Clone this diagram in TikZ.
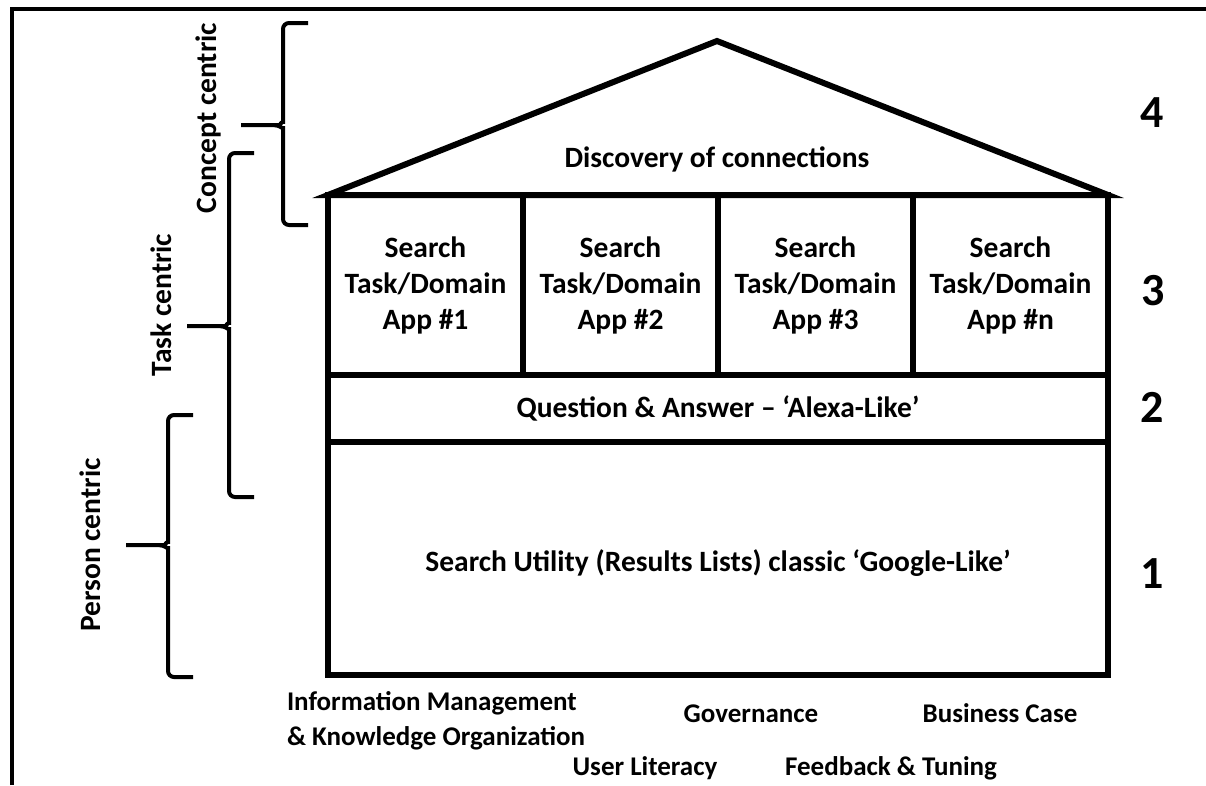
\documentclass[tikz,border=0pt]{standalone}
\usepackage{fontspec}
\setmainfont{Carlito}
\usetikzlibrary{positioning}

% curly bracket: spine x, top y, bottom y, middle y
\newcommand\centricbrace[4]{%
  \draw[brace line] (#1+25,#2) -- (#1,#2) -- (#1,#4-9)
    to[out=-90,in=0] (#1-9,#4) -- (#1-42,#4);
  \draw[brace line] (#1+25,#3) -- (#1,#3) -- (#1,#4+9)
    to[out=90,in=0] (#1-9,#4);
}

\begin{document}
\begin{tikzpicture}[
    x=1pt, y=-1pt,
    every node/.style={
        font=\bfseries\fontsize{29.5}{36}\selectfont,
        inner sep=0pt, outer sep=0pt
    },
    cell/.style={draw, line width=6pt, align=center},
    app/.style={cell, minimum width=195pt, minimum height=180pt},
    storey/.style={font=\bfseries\fontsize{46}{46}\selectfont},
    basis/.style={font=\bfseries\fontsize{27}{34.5}\selectfont},
    brace line/.style={line width=4pt, rounded corners=6pt},
    side/.style={rotate=90, anchor=base}
]
\useasboundingbox (0,0) rectangle (1206,785);
\draw[line width=4pt] (12,785) -- (12,9) -- (1206,9);

% the house
\node[app] (app1) at (425.5,285) {Search\\Task/Domain\\App \#1};
\node[app, right=0pt of app1] (app2) {Search\\Task/Domain\\App \#2};
\node[app, right=0pt of app2] (app3) {Search\\Task/Domain\\App \#3};
\node[app, right=0pt of app3] (appn) {Search\\Task/Domain\\App \#n};
\node[cell, minimum width=780pt, minimum height=67pt, anchor=north west]
    (qa) at (app1.south west) {Question \& Answer -- `Alexa-Like'};
\node[cell, minimum width=780pt, minimum height=233pt, anchor=north west]
    (utility) at (qa.south west) {};
\node (utilitytext) at ([yshift=-5pt]utility.center)
    {Search Utility (Results Lists) classic `Google-Like'};
\coordinate (apex) at (717,41);
\draw[line width=6pt] (app1.north west) -- (apex) -- (appn.north east) -- cycle;
\node[anchor=base] (discovery) at (717,167) {Discovery of connections};

% levels
\node[storey] (n4) at (1152,113) {4};
\node[storey] (n3) at (1153,291) {3};
\node[storey] (n2) at (1152,407) {2};
\node[storey] (n1) at (1152,574) {1};

% brackets on the left
\centricbrace{283}{23}{225}{125}
\centricbrace{229}{153}{497}{326}
\centricbrace{168}{415}{677}{545}
\node[side] (concept) at (216,118) {Concept centric};
\node[side] (task) at (171,305) {Task centric};
\node[side] (person) at (100,545) {Person centric};

% foundations
\node[basis, anchor=north west, align=left] (infomgmt) at (287,692)
    {Information Management\\\& Knowledge Organization};
\node[basis, anchor=base] (governance) at (751,722) {Governance};
\node[basis, anchor=base] (business) at (1000,722) {Business Case};
\node[basis, anchor=base] (literacy) at (645,775) {User Literacy};
\node[basis, anchor=base] (feedback) at (891,775) {Feedback \& Tuning};
\end{tikzpicture}
\end{document}
